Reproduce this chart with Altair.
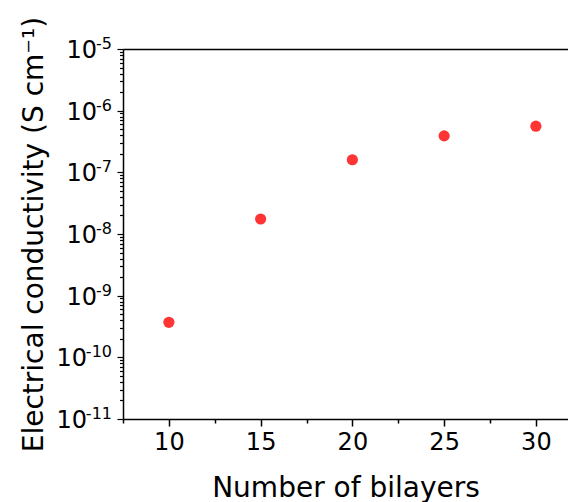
import altair as alt
import pandas as pd

# ---- data ----
bilayers = [10, 15, 20, 25, 30]
conductivity = [3.7e-10, 1.75e-8, 1.6e-7, 3.9e-7, 5.6e-7]

y_exponents = [-11, -10, -9, -8, -7, -6, -5]
y_minor_mult = [2, 3, 4, 5, 6, 7, 8, 9]
x_tick_values = [7.5, 10, 12.5, 15, 17.5, 20, 22.5, 25, 27.5, 30]

x_title = "Number of bilayers"
y_title = "Electrical conductivity (S cm\u207b\u00b9)"

FONT = "DejaVu Sans"
RED = "#FF3535"

pts = pd.DataFrame({"n": bilayers, "sigma": conductivity})
ylab = pd.DataFrame({
    "e": y_exponents,
    "val": [10.0 ** e for e in y_exponents],
    "base": ["10"] * len(y_exponents),
    "sup": [str(e) for e in y_exponents],
})
y_tick_vals = [10.0 ** e for e in y_exponents] + [
    m * 10.0 ** e for e in y_exponents[:-1] for m in y_minor_mult
]

xscale = alt.Scale(domain=[7.5, 31.75], nice=False, zero=False)
yscale = alt.Scale(type="log", domain=[1e-11, 1e-5], nice=False)

major_y = "abs(log(datum.value)/LN10 - round(log(datum.value)/LN10)) < 0.001"
major_x = "datum.value % 5 == 0"

points = alt.Chart(pts).mark_circle(size=125, color=RED, opacity=1).encode(
    x=alt.X("n:Q", scale=xscale, title=x_title,
            axis=alt.Axis(values=x_tick_values, labelExpr=f"{major_x} ? datum.label : ''",
                          tickSize={"condition": {"test": major_x, "value": 7}, "value": 4},
                          labelFontSize=24, labelFont=FONT, labelColor="black",
                          labelPadding=4, labelFlush=False,
                          titleFontSize=28, titleFont=FONT, titleFontWeight="normal",
                          titleColor="black", titleBaseline="alphabetic", titleY=77,
                          domainColor="black", domainWidth=1.5, tickColor="black",
                          tickWidth=1.5, grid=False)),
    y=alt.Y("sigma:Q", scale=yscale, title=y_title,
            axis=alt.Axis(values=y_tick_vals, labels=False,
                          tickSize={"condition": {"test": major_y, "value": 6}, "value": 3.5},
                          titleFontSize=28, titleFont=FONT, titleFontWeight="normal",
                          titleColor="black", titleAngle=270, titleBaseline="alphabetic",
                          titleX=-81, titleY=185,
                          domainColor="black", domainWidth=1.5, tickColor="black",
                          tickWidth=1.2, grid=False)),
)

top_border = alt.Chart(pts).mark_point(opacity=0).encode(
    x=alt.X("n:Q", scale=xscale,
            axis=alt.Axis(orient="top", labels=False, ticks=False, title=None,
                          domainColor="black", domainWidth=1.5, grid=False)),
    y=alt.Y("sigma:Q", scale=yscale, axis=None),
)

base_1 = alt.Chart(ylab).transform_filter(alt.datum.e > -10).mark_text(
    align="right", baseline="alphabetic", fontSize=24, font=FONT, color="black", dy=9
).encode(x=alt.value(-26), y=alt.Y("val:Q", scale=yscale, axis=None), text="base:N")
base_2 = alt.Chart(ylab).transform_filter(alt.datum.e <= -10).mark_text(
    align="right", baseline="alphabetic", fontSize=24, font=FONT, color="black", dy=9
).encode(x=alt.value(-36), y=alt.Y("val:Q", scale=yscale, axis=None), text="base:N")
sup = alt.Chart(ylab).mark_text(
    align="right", baseline="alphabetic", fontSize=16, font=FONT, color="black", dy=0
).encode(x=alt.value(-11), y=alt.Y("val:Q", scale=yscale, axis=None), text="sup:N")

chart = alt.layer(points, top_border, base_1, base_2, sup).resolve_axis(
    x="independent", y="independent"
).properties(
    width=445, height=370,
    autosize=alt.AutoSizeParams(type="none"),
    padding={"left": 115, "top": 41, "right": 0, "bottom": 83},
).configure_view(stroke=None).configure(background="white")

chart.save("out.html", embed_options={"renderer": "svg", "actions": False})
